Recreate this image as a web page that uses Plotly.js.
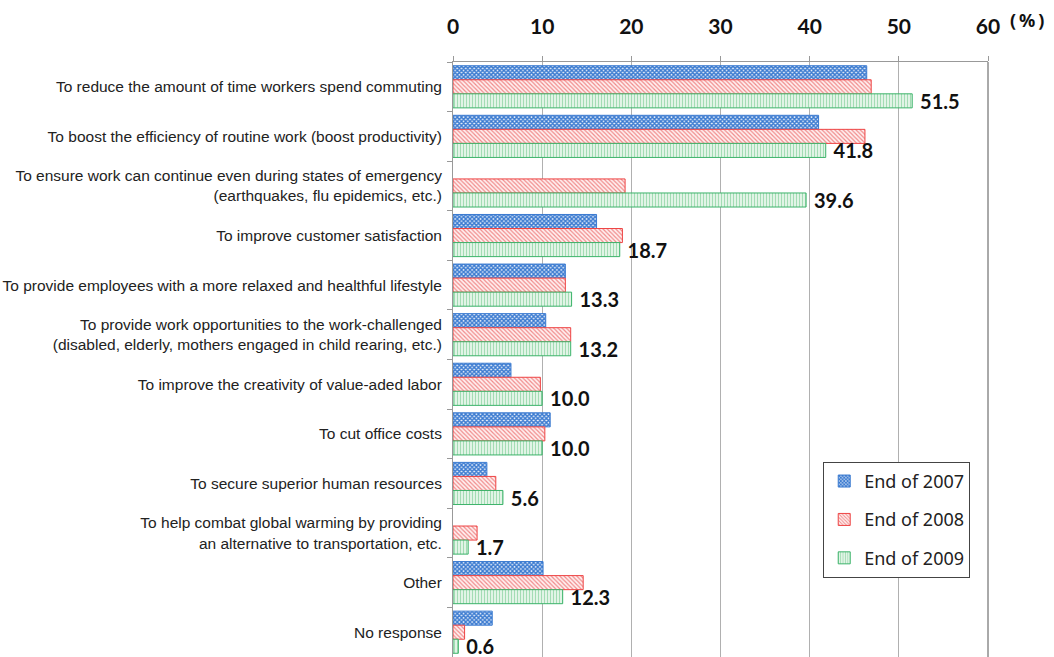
<!DOCTYPE html>
<html>
<head>
<meta charset="utf-8">
<script src="https://cdn.plot.ly/plotly-3.0.1.min.js"></script>
<style>html,body{margin:0;padding:0;background:#fff;}#chart{width:1054px;height:657px;}</style>
</head>
<body>
<div id="chart"></div>
<script>
const categories = [
  "To reduce the amount of time workers spend commuting",
  "To boost the efficiency of routine work (boost productivity)",
  "To ensure work can continue even during states of emergency<br>(earthquakes, flu epidemics, etc.)",
  "To improve customer satisfaction",
  "To provide employees with a more relaxed and healthful lifestyle",
  "To provide work opportunities to the work-challenged<br>(disabled, elderly, mothers engaged in child rearing, etc.)",
  "To improve the creativity of value-aded labor",
  "To cut office costs",
  "To secure superior human resources",
  "To help combat global warming by providing<br>an alternative to transportation, etc.",
  "Other",
  "No response"
];
const seriesNames = ["End of 2007", "End of 2008", "End of 2009"];
const end2007 = [46.4, 41.0, null, 16.1, 12.6, 10.4, 6.5, 10.9, 3.8, null, 10.1, 4.4];
const end2008 = [46.9, 46.2, 19.3, 19.0, 12.6, 13.2, 9.8, 10.3, 4.8, 2.7, 14.6, 1.3];
const end2009 = [51.5, 41.8, 39.6, 18.7, 13.3, 13.2, 10.0, 10.0, 5.6, 1.7, 12.3, 0.6];
const xTicks = [0, 10, 20, 30, 40, 50, 60];

const traces = [
  {
    name: seriesNames[0], y: categories, x: end2007, type: 'bar', orientation: 'h',
    legendgroup: 'a',
    marker: {color: '#3a7ad0', line: {color: '#3a7ad0', width: 1},
      pattern: {shape: 'x', size: 3, solidity: 0.7, fgcolor: '#3a7ad0', bgcolor: '#e8f0fb', fillmode: 'replace'}},
    hoverinfo: 'x'
  },
  {
    name: seriesNames[1], y: categories, x: end2008, type: 'bar', orientation: 'h',
    legendgroup: 'b',
    marker: {color: '#ee4444', line: {color: '#ee4444', width: 1},
      pattern: {shape: '\\', size: 3, solidity: 0.4, fgcolor: '#f08a8a', bgcolor: '#fff0f0', fillmode: 'replace'}},
    hoverinfo: 'x'
  },
  {
    name: seriesNames[2], y: categories, x: end2009, type: 'bar', orientation: 'h',
    legendgroup: 'c',
    marker: {color: '#3cb36a', line: {color: '#3cb36a', width: 1},
      pattern: {shape: '|', size: 3, solidity: 0.4, fgcolor: '#a3dcb4', bgcolor: '#e8f7ec', fillmode: 'replace'}},
    texttemplate: '\u00a0%{x:.1f}', textposition: 'outside', constraintext: 'none', cliponaxis: false,
    textfont: {family: 'Lato, sans-serif', size: 20, color: '#111', weight: 'bold'},
    hoverinfo: 'x'
  }
];

const layout = {
  width: 1054, height: 657,
  margin: {l: 453, r: 66, t: 62, b: 0},
  paper_bgcolor: '#fff', plot_bgcolor: '#fff',
  barmode: 'group', bargap: 0.15, bargroupgap: 0,
  showlegend: true,
  legend: {
    x: 0.692, y: 0.328, xanchor: 'left', yanchor: 'top',
    bordercolor: '#444', borderwidth: 1, bgcolor: '#fff',
    font: {family: '"Noto Sans", sans-serif', size: 18, color: '#222'},
    traceorder: 'grouped', tracegroupgap: 12, itemwidth: 30
  },
  xaxis: {
    side: 'top', range: [0, 60], tickvals: xTicks, ticktext: xTicks.map(String),
    showgrid: true, gridcolor: '#b0b0b0', gridwidth: 1, zeroline: false,
    showline: true, linecolor: '#999', ticks: 'outside', ticklen: 5, tickcolor: '#999',
    ticklabelstandoff: 14,
    tickfont: {family: 'Lato, sans-serif', size: 21, color: '#111', weight: 'bold'},
    fixedrange: true
  },
  yaxis: {
    type: 'category', autorange: 'reversed', tickson: 'boundaries',
    showline: true, linecolor: '#999', ticks: 'outside', ticklen: 5, tickcolor: '#999',
    showgrid: false, zeroline: false, automargin: false,
    tickfont: {family: '"Liberation Sans", Arial, sans-serif', size: 15.5, color: '#222'},
    ticklabelstandoff: 7,
    fixedrange: true
  },
  shapes: [
    {type: 'line', xref: 'paper', yref: 'paper', x0: 1, x1: 1, y0: 0, y1: 1, line: {color: '#555', width: 1}}
  ],
  annotations: [
    {xref: 'paper', yref: 'paper', x: 1.0, y: 1.0, xshift: 20, yshift: 42, xanchor: 'left', yanchor: 'middle',
     text: '(\u2009%\u2009)', showarrow: false,
     font: {family: '"Noto Sans", sans-serif', size: 18, color: '#111', weight: 'bold'}}
  ]
};

Plotly.newPlot('chart', traces, layout, {displayModeBar: false, staticPlot: true});
</script>
</body>
</html>
